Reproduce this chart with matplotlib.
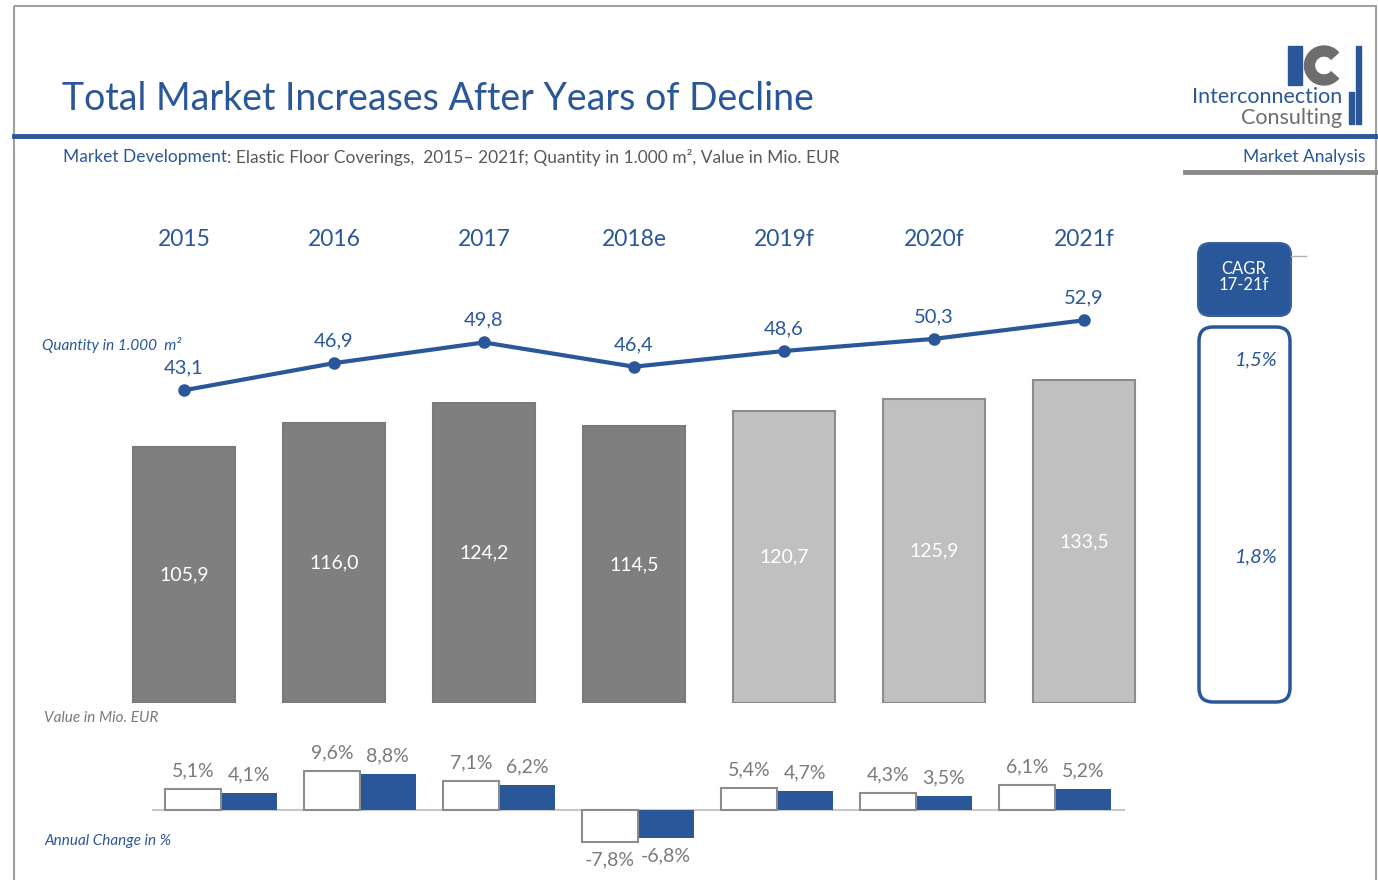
import numpy as np
import matplotlib.pyplot as plt
from matplotlib.patches import FancyBboxPatch, Rectangle, Wedge
from matplotlib.transforms import blended_transform_factory

plt.rcParams['font.family'] = ['Lato', 'DejaVu Sans']

years = ['2015', '2016', '2017', '2018e', '2019f', '2020f', '2021f']
value = [105.9, 116.0, 124.2, 114.5, 120.7, 125.9, 133.5]
quantity = [43.1, 46.9, 49.8, 46.4, 48.6, 50.3, 52.9]
value_change = [5.1, 9.6, 7.1, -7.8, 5.4, 4.3, 6.1]
quantity_change = [4.1, 8.8, 6.2, -6.8, 4.7, 3.5, 5.2]
n_actual = 4  # 2015-2018e are actual values
cagr_quantity = '1,5%'
cagr_value = '1,8%'

BLUE = '#2a579a'
GRAY = '#7f7f7f'
LIGHT = '#c0c0c0'
TXT = '#7a7a7a'

W, H = 1378, 880

def fmt(v, pct=False):
    s = f'{v:.1f}'.replace('.', ',')
    return s + '%' if pct else s

def rect(x0, y0, x1, y1):
    # pixel box (top-left origin) -> figure fraction
    return [x0 / W, 1 - y1 / H, (x1 - x0) / W, (y1 - y0) / H]

fig = plt.figure(figsize=(W / 100, H / 100), dpi=100)

# decoration layer in pixel coordinates
deco = fig.add_axes([0, 0, 1, 1])
deco.set_xlim(0, W)
deco.set_ylim(H, 0)
deco.axis('off')

deco.add_patch(Rectangle((14, 6), 1362, 880, fill=False, ec='#a0a0a0', lw=1.5))
deco.plot([14, 1376], [136, 136], color=BLUE, lw=3.5)
deco.plot([1185, 1376], [172, 172], color='#8a8a8a', lw=3.5)

deco.text(62, 99, 'Total Market Increases After Years of Decline', color=BLUE,
          fontsize=27, va='center', ha='left')
t = deco.text(63, 157, 'Market Development', color=BLUE, fontsize=12.5, va='center')
fig.canvas.draw()
bb = t.get_window_extent()
deco.text(bb.x1, 157, ': Elastic Floor Coverings,  2015\u2013 2021f; Quantity in 1.000 m², Value in Mio. EUR',
          color='#595959', fontsize=12.5, va='center')
deco.text(1365, 157, 'Market Analysis', color=BLUE, fontsize=12.5, va='center', ha='right')

# logo
deco.add_patch(Rectangle((1288, 46), 14, 39, color=BLUE))
deco.add_patch(Wedge((1324, 65.5), 19.5, 42, 318, width=10, color='#6d6d6d'))
deco.add_patch(Rectangle((1356, 46), 5, 78, color=BLUE))
deco.add_patch(Rectangle((1349, 92), 5, 32, color=BLUE))
deco.text(1342, 97, 'Interconnection', color=BLUE, fontsize=15.5, ha='right', va='center')
deco.text(1342, 118, 'Consulting', color='#6d6d6d', fontsize=15.5, ha='right', va='center')

# CAGR boxes
deco.add_patch(FancyBboxPatch((1198, 243), 93, 73, boxstyle='round,pad=0,rounding_size=12',
                              fc=BLUE, ec='#3a62a0', lw=1.5))
deco.plot([1291, 1306], [256, 256], color='#b0b0b0', lw=1)
deco.text(1244, 277, 'CAGR\n17-21f', color='white', fontsize=12, ha='center', va='center',
          linespacing=1.0)
deco.add_patch(FancyBboxPatch((1199, 327), 91, 375, boxstyle='round,pad=0,rounding_size=14',
                              fc='white', ec=BLUE, lw=2.5))
deco.text(1256, 360, cagr_quantity, color=BLUE, fontsize=14.5, style='italic', ha='center', va='center')
deco.text(1256, 557, cagr_value, color=BLUE, fontsize=14.5, style='italic', ha='center', va='center')

deco.text(42, 345, 'Quantity in 1.000  m²', color=BLUE, fontsize=11, style='italic', va='center')
deco.text(44, 718, 'Value in Mio. EUR', color=TXT, fontsize=11, style='italic', va='center')
deco.text(44, 841, 'Annual Change in %', color=BLUE, fontsize=11, style='italic', va='center')

# main chart: value bars + quantity line
x = np.arange(len(years))
ax = fig.add_axes(rect(109, 200, 1159, 703))
ax.set_xlim(-0.5, 6.5)
ax.set_ylim(0, 503 / 2.417)
colors = [GRAY if i < n_actual else LIGHT for i in x]
edges = ['#7a7a7a' if i < n_actual else '#8c8c8c' for i in x]
ax.bar(x, value, width=0.68, color=colors, edgecolor=edges, linewidth=1.5)
for i, v in enumerate(value):
    ax.text(i, v / 2, fmt(v), color='white', fontsize=14, ha='center', va='center')
tr = blended_transform_factory(ax.transData, ax.transAxes)
for i, y in enumerate(years):
    ax.text(i, 0.9205, y, transform=tr, color=BLUE, fontsize=16.5, ha='center', va='center')
ax.axis('off')

ax2 = ax.twinx()
ax2.set_ylim(-5 / 7.14, 498 / 7.14)
ax2.plot(x, quantity, color=BLUE, lw=3, marker='o', markersize=8)
for i, q in enumerate(quantity):
    ax2.annotate(fmt(q), (i, q), xytext=(0, 16), textcoords='offset points',
                 color=BLUE, fontsize=14.5, ha='center', va='center')
ax2.axis('off')

# annual change bars
ax3 = fig.add_axes(rect(151.5, 740, 1124.5, 870))
ax3.set_xlim(-0.5, 6.5)
ax3.set_ylim(-60 / 4.06, 70 / 4.06)
ax3.bar(x - 0.2, value_change, width=0.4, color='white', edgecolor='#8c8c8c', linewidth=1.5, zorder=3)
ax3.bar(x + 0.2, quantity_change, width=0.4, color=BLUE, zorder=2)
ax3.axhline(0, color='#c8c8c8', lw=1.5, zorder=1)
for i in x:
    for dx, v in ((-0.2, value_change[i]), (0.2, quantity_change[i])):
        off = 13 if v >= 0 else -13
        ax3.annotate(fmt(v, True), (i + dx, v), xytext=(0, off), textcoords='offset points',
                     color=TXT, fontsize=14, ha='center', va='center')
ax3.axis('off')

fig.savefig('out.png', dpi=100)
